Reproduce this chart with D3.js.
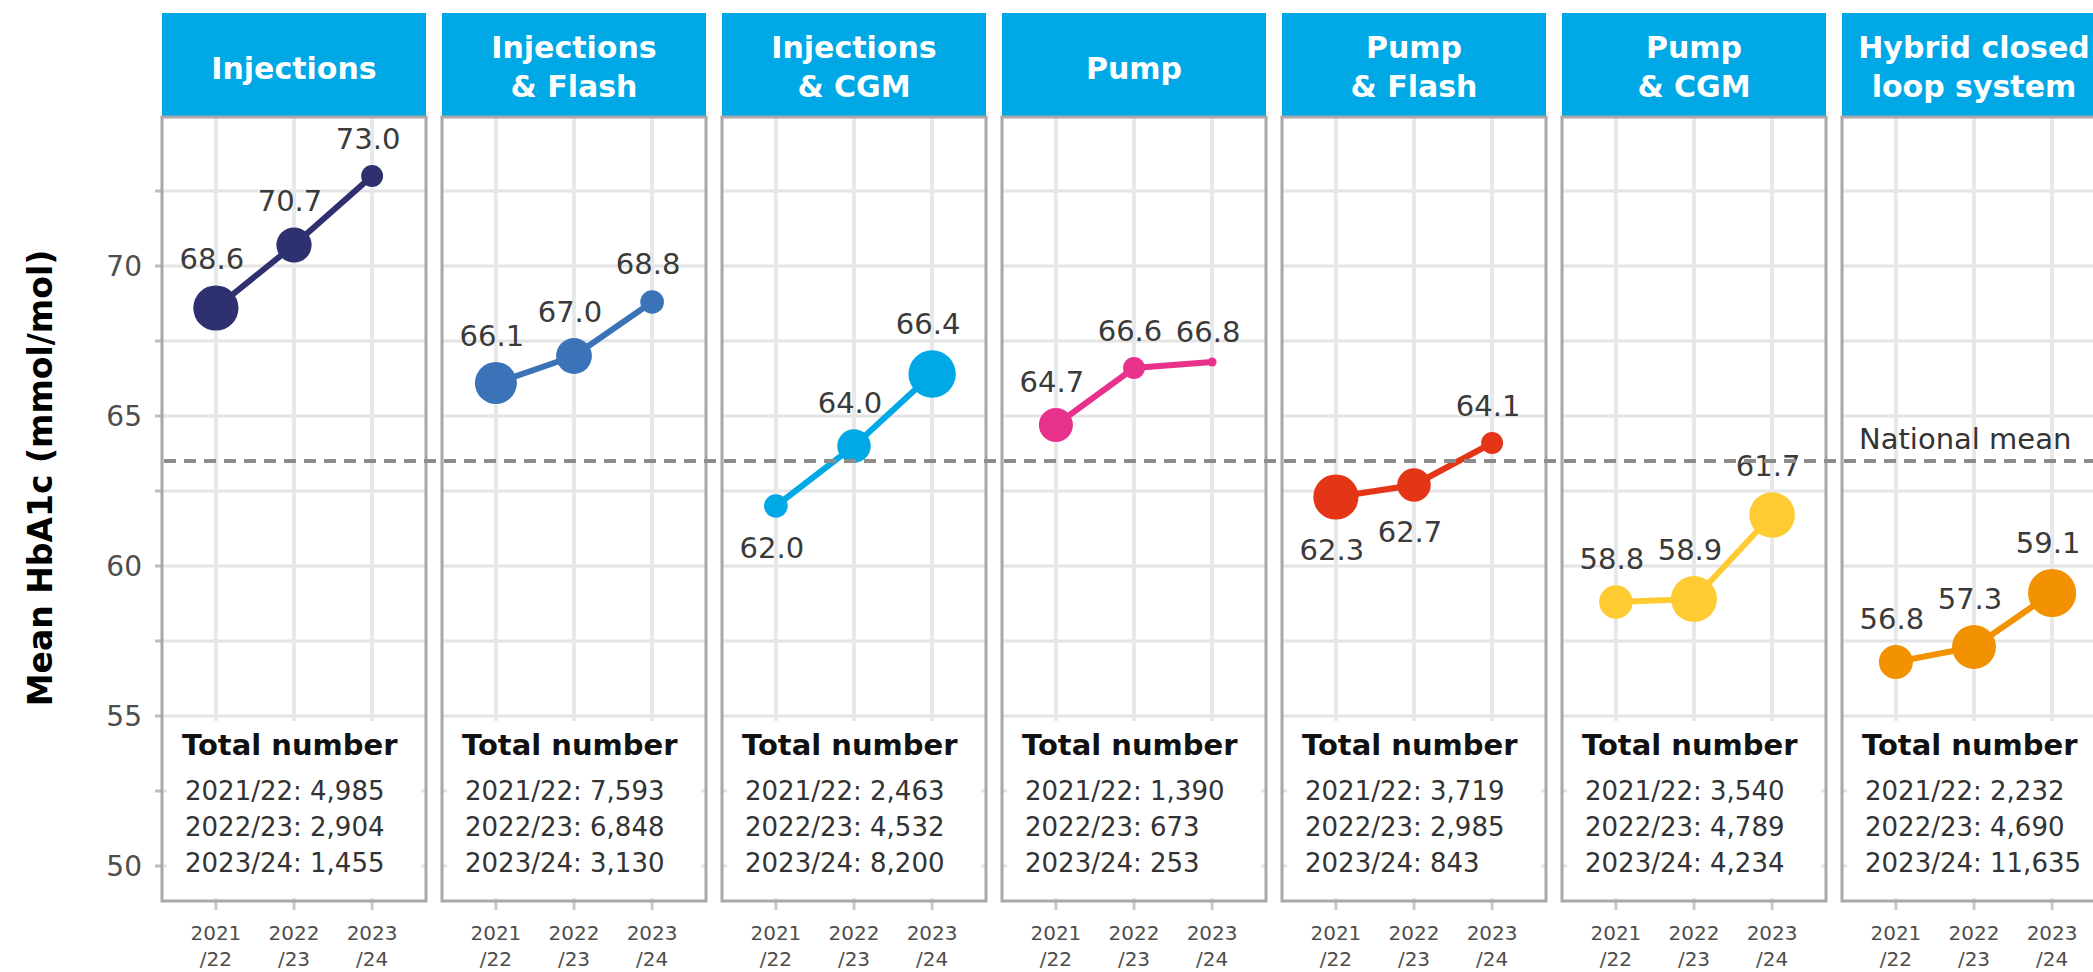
<!DOCTYPE html>
<html><head><meta charset="utf-8">
<script src="https://cdn.jsdelivr.net/npm/d3@7"></script>
<style>html,body{margin:0;padding:0;background:#fff;overflow:hidden}</style>
</head><body><svg id="chart" width="2093" height="972"></svg>
<script>
// ---------------- DATA ----------------
const categories = ["Injections", "Injections & Flash", "Injections & CGM", "Pump", "Pump & Flash", "Pump & CGM", "Hybrid closed loop system"];
const headerLines = [["Injections"], ["Injections", "& Flash"], ["Injections", "& CGM"], ["Pump"], ["Pump", "& Flash"], ["Pump", "& CGM"], ["Hybrid closed", "loop system"]];
const years = ["2021/22", "2022/23", "2023/24"];
const yearTickLabels = [["2021", "/22"], ["2022", "/23"], ["2023", "/24"]];
const meanHbA1c = [
  [68.6, 70.7, 73.0],
  [66.1, 67.0, 68.8],
  [62.0, 64.0, 66.4],
  [64.7, 66.6, 66.8],
  [62.3, 62.7, 64.1],
  [58.8, 58.9, 61.7],
  [56.8, 57.3, 59.1]
];
const totalNumber = [
  [4985, 2904, 1455],
  [7593, 6848, 3130],
  [2463, 4532, 8200],
  [1390, 673, 253],
  [3719, 2985, 843],
  [3540, 4789, 4234],
  [2232, 4690, 11635]
];
// relative marker size (size aesthetic)
const markerSize = [
  [51, 31, 12],
  [44, 32, 14],
  [14, 28, 56],
  [29, 12, 2],
  [51, 28, 12],
  [28, 53, 52],
  [29, 48, 58]
];
const nationalMean = 63.5;
const yTicks = [50, 55, 60, 65, 70];
const yTitle = "Mean HbA1c (mmol/mol)";
const seriesColors = ["#2e3070", "#3a73b8", "#00a9e6", "#e8318a", "#e53517", "#ffcb32", "#f39200"];
// labels placed beneath their marker (like a nudge_y option)
const labelsBelow = ["Injections & CGM|2021/22", "Pump & Flash|2021/22", "Pump & Flash|2022/23"];

// ---------------- LAYOUT ----------------
const FONT = "'DejaVu Sans', Verdana, sans-serif";
const svg = d3.select("#chart");
const headerTop = 13, plotTop = 117, plotBottom = 901;

const panelX = d3.scaleBand().domain(categories).range([162, 2106]).paddingInner(16 / 280).paddingOuter(0);
const bw = panelX.bandwidth();
const y = d3.scaleLinear().domain([50 - (plotBottom - 866) / 30, 70 + (266 - plotTop) / 30]).range([plotBottom, plotTop]);
const x = d3.scalePoint().domain(years).range([0, bw]).padding(0.69);
const r = d3.scaleSqrt().domain([0, 58]).range([0, 24.1]);
const gridVals = d3.range(50, 75, 2.5);
const fmt = d3.format(",");

// y-axis title
svg.append("text")
  .attr("transform", "translate(40,478) rotate(-90)")
  .attr("text-anchor", "middle").attr("dominant-baseline", "central")
  .style("font-family", FONT).style("font-weight", "bold").style("font-size", "33px")
  .attr("fill", "#000").text(yTitle);

// y-axis tick labels + ticks (left of first panel)
const yAxisG = svg.append("g").attr("transform", `translate(${panelX(categories[0])},0)`);
yAxisG.selectAll("line.ytick").data(gridVals).join("line")
  .attr("x1", -7).attr("x2", 1).attr("y1", d => y(d)).attr("y2", d => y(d))
  .attr("stroke", "#bdbdbd").attr("stroke-width", 3);
yAxisG.selectAll("text.ylab").data(yTicks).join("text")
  .attr("x", -20).attr("y", d => y(d) + 10)
  .attr("text-anchor", "end")
  .style("font-family", FONT).style("font-size", "28px").attr("fill", "#4d4d4d")
  .text(d => d);

const panels = [];
categories.forEach((cat, i) => {
  const g = svg.append("g").attr("transform", `translate(${panelX(cat)},0)`);
  panels.push(g);
  // header
  g.append("rect").attr("x", 0).attr("y", headerTop).attr("width", bw).attr("height", plotTop - headerTop).attr("fill", "#00a9e6");
  const lines = headerLines[i];
  const baselines = lines.length === 1 ? [79] : [58, 97];
  lines.forEach((t, k) => {
    g.append("text").attr("x", bw / 2).attr("y", baselines[k]).attr("text-anchor", "middle")
      .style("font-family", FONT).style("font-weight", "bold").style("font-size", "30px")
      .attr("fill", "#fff").text(t);
  });
  // plot background
  g.append("rect").attr("x", 0).attr("y", plotTop).attr("width", bw).attr("height", plotBottom - plotTop).attr("fill", "#fff");
  // grid
  g.selectAll("line.hg").data(gridVals).join("line")
    .attr("x1", 0).attr("x2", bw).attr("y1", d => y(d)).attr("y2", d => y(d))
    .attr("stroke", "#e4e4e4").attr("stroke-width", 3);
  g.selectAll("line.vg").data(years).join("line")
    .attr("x1", d => x(d)).attr("x2", d => x(d)).attr("y1", plotTop).attr("y2", plotBottom)
    .attr("stroke", "#e8e8e8").attr("stroke-width", 4);
  // x ticks
  g.selectAll("line.xt").data(years).join("line")
    .attr("x1", d => x(d)).attr("x2", d => x(d)).attr("y1", plotBottom).attr("y2", plotBottom + 9)
    .attr("stroke", "#c8c8c8").attr("stroke-width", 3);
  // x tick labels
  years.forEach((yr, k) => {
    yearTickLabels[k].forEach((t, j) => {
      g.append("text").attr("x", x(yr)).attr("y", 940 + j * 26).attr("text-anchor", "middle")
        .style("font-family", FONT).style("font-size", "20px").attr("fill", "#4d4d4d").text(t);
    });
  });
  // totals box
  const boxTop = y(55) + 5;
  g.append("rect").attr("x", 5).attr("y", boxTop).attr("width", bw - 10).attr("height", plotBottom - boxTop - 3).attr("fill", "#fff");
  g.append("text").attr("x", 20).attr("y", 755)
    .style("font-family", FONT).style("font-weight", "bold").style("font-size", "29px").attr("fill", "#111")
    .text("Total number");
  years.forEach((yr, k) => {
    g.append("text").attr("x", 23).attr("y", 800 + k * 36)
      .style("font-family", FONT).style("font-size", "26px").attr("fill", "#333")
      .text(`${yr}: ${fmt(totalNumber[i][k])}`);
  });
  // border
  g.append("rect").attr("x", 0).attr("y", plotTop).attr("width", bw).attr("height", plotBottom - plotTop)
    .attr("fill", "none").attr("stroke", "#a8a8a8").attr("stroke-width", 3);
  // series line + points
  const pts = years.map((yr, k) => ({ yr, v: meanHbA1c[i][k], s: markerSize[i][k] }));
  g.append("path").datum(pts)
    .attr("d", d3.line().x(d => x(d.yr)).y(d => y(d.v)))
    .attr("fill", "none").attr("stroke", seriesColors[i]).attr("stroke-width", 6).attr("stroke-linecap", "round");
  g.selectAll("circle.pt").data(pts).join("circle")
    .attr("cx", d => x(d.yr)).attr("cy", d => y(d.v)).attr("r", d => r(d.s))
    .attr("fill", seriesColors[i]);
});

// national mean dashed line (over data)
const meanX0 = panelX(categories[0]) + 2;
svg.append("line").attr("x1", meanX0).attr("x2", 2093).attr("y1", y(nationalMean)).attr("y2", y(nationalMean))
  .attr("stroke", "#8c8c8c").attr("stroke-width", 4).attr("stroke-dasharray", "12,8");
svg.append("text").attr("x", panelX(categories[6]) + 17).attr("y", y(nationalMean) - 12)
  .style("font-family", FONT).style("font-size", "29px").attr("fill", "#333").text("National mean");

// value labels
categories.forEach((cat, i) => {
  const g = panels[i];
  years.forEach((yr, k) => {
    const v = meanHbA1c[i][k];
    const rad = r(markerSize[i][k]);
    const below = labelsBelow.includes(cat + "|" + yr);
    const cy = y(v);
    g.append("text")
      .attr("x", x(yr) - 4)
      .attr("y", below ? cy + rad + 19 + 21 : cy - rad - 16)
      .attr("text-anchor", "middle")
      .style("font-family", FONT).style("font-size", "29px").attr("fill", "#3a3a3a")
      .text(d3.format(".1f")(v));
  });
});
</script>
</body></html>
